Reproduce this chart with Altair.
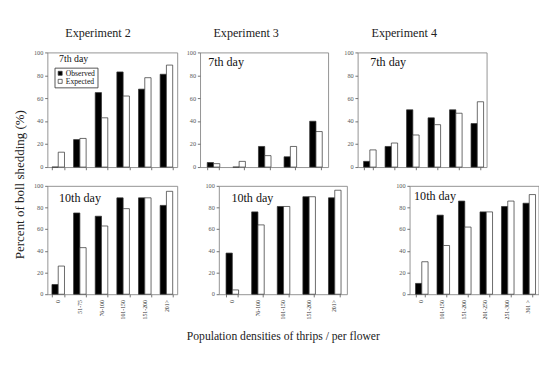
import altair as alt
import pandas as pd

SERIF = "Liberation Serif"
series = ["Observed", "Expected"]

exp2_cats = ["0", "51-75", "76-100", "101-150", "151-200", "201>"]
exp2_d7_obs = [0, 24, 65, 83, 68, 81]
exp2_d7_exp = [13, 25, 43, 62, 78, 89]
exp2_d10_obs = [9, 75, 72, 89, 89, 82]
exp2_d10_exp = [26, 43, 63, 79, 89, 95]

exp3_cats = ["0", "76-100", "101-150", "151-200", "201>"]
exp3_d7_obs = [4, 0, 18, 9, 40]
exp3_d7_exp = [3, 5, 10, 18, 31]
exp3_d10_obs = [38, 76, 81, 90, 89]
exp3_d10_exp = [4, 64, 81, 90, 96]

exp4_cats = ["0", "101-150", "151-200", "201-250", "251-300", "301 >"]
exp4_d7_obs = [5, 18, 50, 43, 50, 38]
exp4_d7_exp = [15, 21, 28, 37, 47, 57]
exp4_d10_obs = [10, 73, 86, 76, 81, 84]
exp4_d10_exp = [30, 45, 62, 76, 86, 92]

y_ticks = [0, 20, 40, 60, 80, 100]


def panel(cats, obs, exp, day, width, height, top, day_x, day_y, day_size, pad_in,
          title=None, title_dx=-18, legend=False, xtitle=None):
    df = pd.DataFrame({
        "cat": cats * 2,
        "series": [series[0]] * len(cats) + [series[1]] * len(cats),
        "value": obs + exp,
    })
    ax_kw = dict(labelAngle=270, labels=not top, tickBand="extent", tickSize=3,
                 labelFontSize=6.5, labelFont=SERIF, labelColor="#333",
                 tickColor="#666", domain=False, labelPadding=3)
    if xtitle:
        ax_kw.update(title=xtitle, titleFont=SERIF, titleFontSize=13,
                     titleFontWeight="normal", titlePadding=13, titleColor="#222")
    else:
        ax_kw.update(title=None)
    if legend:
        leg = alt.Legend(title=None, orient="none", legendX=8, legendY=17,
                         strokeColor="#444", padding=2, symbolType="square",
                         symbolSize=20, symbolStrokeColor="#333", symbolStrokeWidth=0.8,
                         labelFont=SERIF, labelFontSize=8.5, labelColor="#111",
                         rowPadding=0, labelOffset=2, fillColor="white")
    else:
        leg = None
    bars = alt.Chart(df).mark_bar(stroke="#333", strokeWidth=0.8).encode(
        x=alt.X("cat:N", sort=cats,
                scale=alt.Scale(paddingInner=pad_in, paddingOuter=pad_in / 2),
                axis=alt.Axis(**ax_kw)),
        xOffset=alt.XOffset("series:N", sort=series),
        y=alt.Y("value:Q", scale=alt.Scale(domain=[0, 100]),
                axis=alt.Axis(title=None, values=y_ticks, tickSize=3,
                              labelFontSize=7, labelFont=SERIF, labelColor="#555",
                              tickColor="#666", domain=False, grid=False,
                              labelPadding=2)),
        fill=alt.Fill("series:N", sort=series,
                      scale=alt.Scale(domain=series, range=["#000000", "#ffffff"]),
                      legend=leg),
    )
    txt = alt.Chart(pd.DataFrame({"label": [day]})).mark_text(
        align="left", baseline="middle", font=SERIF, fontSize=day_size,
        color="#111").encode(
        x=alt.value(day_x), y=alt.value(day_y), text="label:N")
    props = dict(width=width, height=height)
    if title:
        props["title"] = alt.TitleParams(title, font=SERIF, fontSize=13.5,
                                         fontWeight="normal", dx=title_dx, offset=11,
                                         color="#222")
    return alt.layer(bars, txt).properties(**props)


W = [145, 143, 144]
H_TOP, H_BOT = 128, 121
PAD = [0.42, 0.56, 0.55]


def row(panels):
    left = alt.hconcat(panels[0], panels[1], spacing=8.5).resolve_scale(fill="independent")
    return alt.hconcat(left, panels[2], spacing=16.5).resolve_scale(fill="independent")


top_row = row([
    panel(exp2_cats, exp2_d7_obs, exp2_d7_exp, "7th day", W[0], H_TOP, True, 13, 8, 11,
          PAD[0], title="Experiment 2", title_dx=-16, legend=True),
    panel(exp3_cats, exp3_d7_obs, exp3_d7_exp, "7th day", W[1], H_TOP, True, 9, 11, 13.5,
          PAD[1], title="Experiment 3", title_dx=-20),
    panel(exp4_cats, exp4_d7_obs, exp4_d7_exp, "7th day", W[2], H_TOP, True, 14, 11, 13.5,
          PAD[2], title="Experiment 4", title_dx=-20),
])

bot_row = row([
    panel(exp2_cats, exp2_d10_obs, exp2_d10_exp, "10th day", W[0], H_BOT, False, 13, 14,
          13.5, PAD[0]),
    panel(exp3_cats, exp3_d10_obs, exp3_d10_exp, "10th day", W[1], H_BOT, False, 14, 14,
          13.5, PAD[1], xtitle="Population densities of thrips / per flower"),
    panel(exp4_cats, exp4_d10_obs, exp4_d10_exp, "10th day", W[2], H_BOT, False, 5, 12,
          13.5, PAD[2]),
])

chart = alt.vconcat(top_row, bot_row, spacing=12).resolve_scale(
    fill="independent"
).properties(
    title=alt.TitleParams("Percent of boll shedding (%)", orient="left",
                          anchor="middle",
                          font=SERIF, fontSize=14.5, fontWeight="normal",
                          color="#222", offset=7),
    padding={"left": 5, "top": 0, "right": 0, "bottom": 0},
).configure_view(stroke="#888", strokeWidth=1)

chart.save("out.html", embed_options={"renderer": "svg", "actions": False})
